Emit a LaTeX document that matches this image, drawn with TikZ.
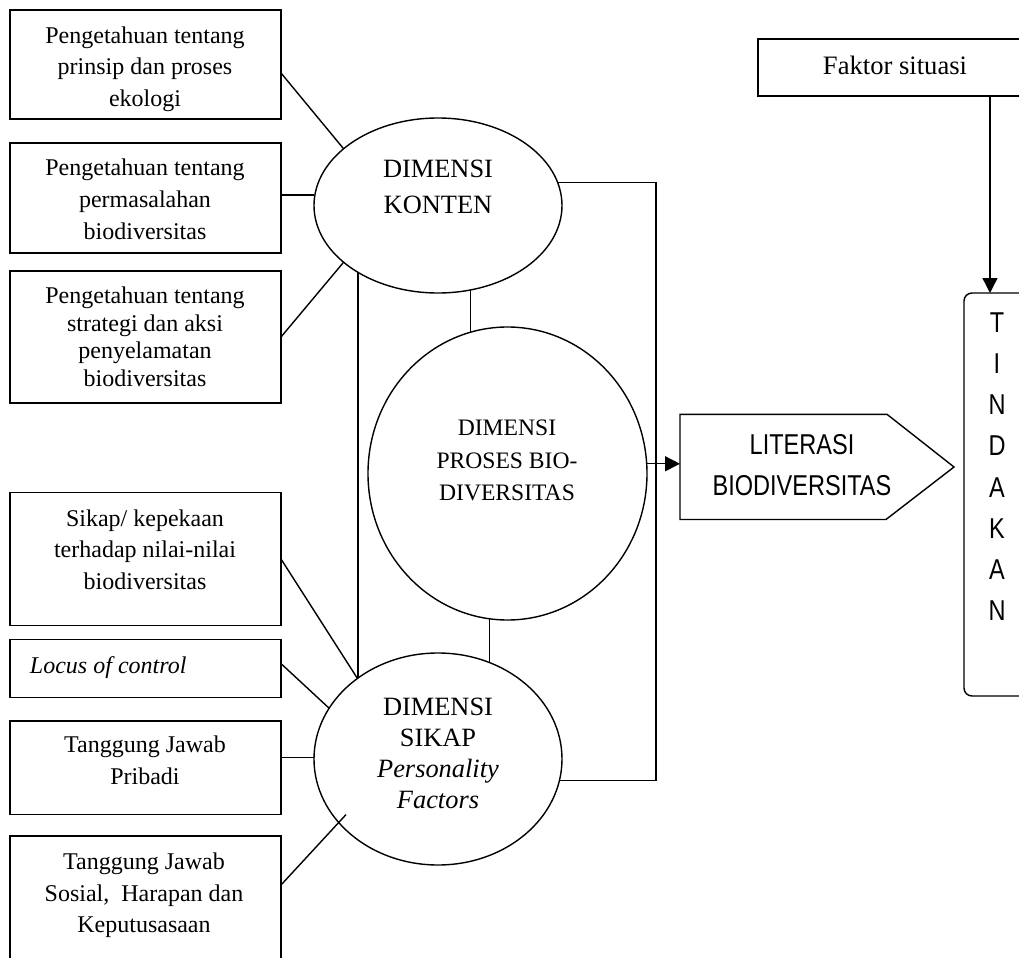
\documentclass[tikz,border=0pt]{standalone}
\usepackage{fontspec}
\setmainfont{Liberation Serif}
\newfontfamily\narrowsans[FakeStretch=0.82]{Liberation Sans}
\usetikzlibrary{shapes.geometric,arrows.meta}
\begin{document}
\begin{tikzpicture}[x=0.5pt,y=-0.5pt, line width=0.7pt,
  box/.style={draw, rectangle, minimum width=135.5pt, inner sep=0pt, outer sep=0pt},
  ell/.style={draw, ellipse, inner sep=0pt, outer sep=0pt},
  txt/.style={align=center, inner sep=0pt, outer sep=0pt},
  boxfont/.style={font=\fontsize{12}{15.9}\selectfont},
  tip/.style={-{Triangle[length=7.5pt,width=7.5pt]}}
]
\useasboundingbox (0,0) rectangle (1019,958);
\clip (0,0) rectangle (1019,958);

% left boxes
\node[box, minimum height=54.5pt] (b1) at (145.5,64.5) {};
\node[txt, boxfont] (t1) at (145,68.5) {\strut Pengetahuan tentang\\prinsip dan proses\\ekologi\strut};
\node[box, minimum height=55pt] (b2) at (145.5,198) {};
\node[txt, boxfont] (t2) at (145,201) {\strut Pengetahuan tentang\\permasalahan\\biodiversitas\strut};
\node[box, minimum height=66pt] (b3) at (145.5,337) {};
\node[txt, font=\fontsize{12}{13.85}\selectfont] (t3) at (145,339.4) {\strut Pengetahuan tentang\\strategi dan aksi\\penyelamatan\\biodiversitas\strut};
\node[box, minimum height=66.25pt] (b4) at (145.5,559) {};
\node[txt, boxfont] (t4) at (145,551.5) {\strut Sikap/ kepekaan\\terhadap nilai-nilai\\biodiversitas\strut};
\node[box, minimum height=28.8pt] (b5) at (145.5,668.4) {};
\node[txt, anchor=west, font=\itshape\fontsize{12}{15.9}\selectfont] (t5) at (30,667) {\strut Locus of control\strut};
\node[box, minimum height=46.85pt] (b6) at (145.5,767.75) {};
\node[txt, boxfont] (t6) at (145,762.5) {\strut Tanggung Jawab\\Pribadi\strut};
\node[box, minimum height=77pt] (b7) at (145.5,913) {};
\node[txt, boxfont] (t7) at (144,894.7) {\strut Tanggung Jawab\\Sosial,\ \ Harapan dan\\Keputusasaan\strut};

% ellipses
\node[ell, minimum width=124pt, minimum height=87.5pt] (kon) at (438,205.5) {};
\node[txt, font=\fontsize{13.2}{18}\selectfont] (konT) at (438,188) {\strut DIMENSI\\KONTEN\strut};
\node[ell, minimum width=139.5pt, minimum height=146.5pt] (pro) at (507.5,473.5) {};
\node[txt, font=\fontsize{11.8}{16.25}\selectfont] (proT) at (507,461.7) {\strut DIMENSI\\PROSES BIO-\\DIVERSITAS\strut};
\node[ell, minimum width=124pt, minimum height=106pt] (sik) at (438,759) {};
\node[txt, font=\fontsize{13.2}{15.45}\selectfont] (sikT) at (438,755.8) {\strut DIMENSI\\SIKAP\\\textit{Personality}\\\textit{Factors}\strut};

% literasi
\coordinate (l1) at (680,414.3);
\coordinate (l2) at (887,414.3);
\coordinate (l3) at (954,467);
\coordinate (l4) at (886,519.5);
\coordinate (l5) at (680,519.5);
\draw (l1) -- (l2) -- (l3) -- (l4) -- (l5) -- cycle;
\node[txt, font=\narrowsans\fontsize{14.35}{20.6}\selectfont] (lit) at (802,466.4) {\strut LITERASI\\BIODIVERSITAS\strut};

% faktor situasi
\node[box, minimum width=141pt, minimum height=28.5pt] (fak) at (899,67.5) {};
\node[txt, font=\fontsize{13.3}{16}\selectfont] (fakT) at (895,68) {\strut Faktor situasi\strut};

% tindakan
\node[draw, rectangle, rounded corners=4pt, minimum width=38pt, minimum height=201.5pt, inner sep=0pt, outer sep=0pt] (tin) at (1002,494.5) {};
\node[txt, font=\narrowsans\fontsize{14.35}{20.55}\selectfont] (tinT) at (997,468.3) {\strut T\\I\\N\\D\\A\\K\\A\\N\strut};

% connectors
\coordinate (c1s) at ([yshift=-4.25pt]b1.east);
\draw (c1s) -- (kon.149);
\coordinate (c2s) at ([yshift=1.5pt]b2.east);
\draw (c2s) -- (c2s -| kon.west);
\draw (b3.east) -- (kon.211);
\draw (kon.220) -- (kon.220 |- sik.135);
\draw (kon.291) -- (kon.291 |- pro.105);
\draw (pro.263) -- (pro.263 |- sik.62);
\draw (b4.east) -- (sik.135);
\coordinate (c5s) at ([yshift=2.4pt]b5.east);
\draw (c5s) -- (sik.155);
\coordinate (c6s) at ([yshift=5.2pt]b6.east);
\draw (c6s) -- (c6s -| sik.west);
\coordinate (c7s) at ([yshift=14pt]b7.east);
\coordinate (c7e) at (346,814.6);
\draw (c7s) -- (c7e);
\coordinate (brk) at (656,470);
\draw (kon.11) -| (brk) |- (sik.350);
\draw[tip] (pro.4) -- (pro.4 -| l1);
\coordinate (fs) at ([xshift=45.5pt]fak.south);
\draw[tip] (fs) -- (fs |- tin.north);
\end{tikzpicture}
\end{document}
